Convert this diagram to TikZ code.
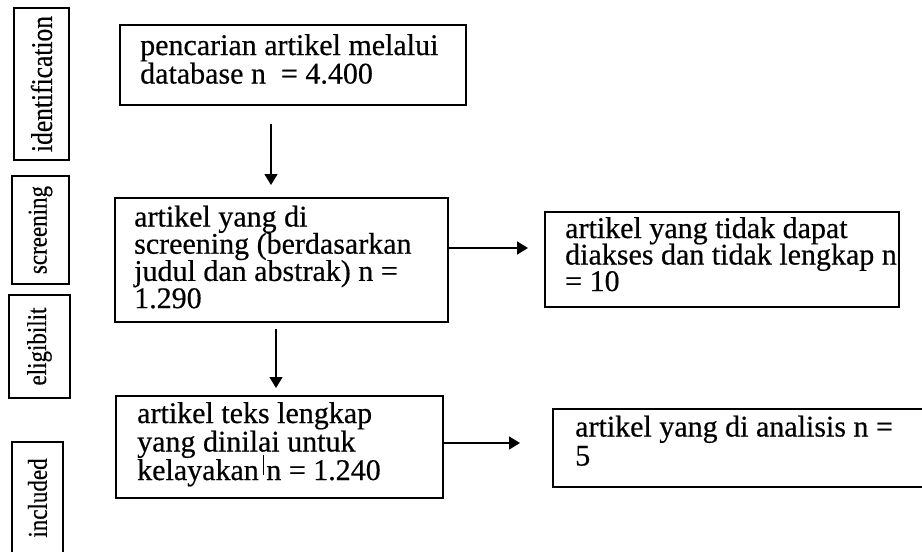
\documentclass[tikz,border=0pt]{standalone}
\usepackage{fontspec}
\setmainfont[FakeBold=0.45]{Liberation Serif}
\usetikzlibrary{arrows.meta}
\tikzset{
  box/.style={draw, line width=2.4pt, rectangle, inner sep=0pt, anchor=north west},
  lbl/.style={draw, line width=2.4pt, rectangle, inner sep=0pt, rotate=90, font=\fontsize{23}{23}\selectfont},
  txt/.style={inner sep=0pt, anchor=base west, font=\fontsize{30}{30}\selectfont},
  arr/.style={line width=1.5pt, -{Triangle[length=11pt,width=13pt]}},
}
\newcommand\tallglyph[1]{\scalebox{1}[1.18]{#1}}
\begin{document}
\begin{tikzpicture}[x=1pt,y=-1pt]
\clip (0,0) rectangle (922,552);
% stage labels
\node[lbl, minimum width=152, minimum height=55, font=\fontsize{25.5}{25.5}\selectfont] (l1) at (41.5,84) {\tallglyph{identification}};
\node[lbl, minimum width=108, minimum height=57] (l2) at (40.5,230) {\tallglyph{screening}};
\node[lbl, minimum width=103, minimum height=61] (l3) at (39.5,346.5) {\tallglyph{eligibilit}};
\node[lbl, minimum width=112, minimum height=51] (l4) at (37.5,498) {\tallglyph{included}};
% boxes
\node[box, minimum width=346, minimum height=80] (b1) at (119,24) {};
\node[box, minimum width=333, minimum height=124] (b2) at (114,197) {};
\node[box, minimum width=354, minimum height=95] (b4) at (544,211) {};
\node[box, minimum width=327, minimum height=102] (b3) at (115,395) {};
\node[box, minimum width=400, minimum height=78] (b5) at (552,408) {};
% texts
\node[txt] (t1) at (140,55) {\vtop{\baselineskip=28.5pt\lineskiplimit=-100pt\hbox{pencarian artikel melalui}\hbox{database n\ \ = 4.400}}};
\node[txt] (t2) at (134,226.5) {\vtop{\baselineskip=27.2pt\lineskiplimit=-100pt\hbox{artikel yang di}\hbox{screening (berdasarkan}\hbox{judul dan abstrak) n =}\hbox{1.290}}};
\node[txt] (t4) at (565,238) {\vtop{\baselineskip=26.5pt\lineskiplimit=-100pt\hbox{artikel yang tidak dapat}\hbox{diakses dan tidak lengkap n}\hbox{= 10}}};
\node[txt] (t3) at (137,423) {\vtop{\baselineskip=28.5pt\lineskiplimit=-100pt\hbox{artikel teks lengkap}\hbox{yang dinilai untuk}\hbox{kelayakan n = 1.240}}};
\node[txt] (t5) at (575,436.5) {\vtop{\baselineskip=29pt\lineskiplimit=-100pt\hbox{artikel yang di analisis n =}\hbox{5}}};
% connector guides
\coordinate (c1) at (271,0);
\coordinate (c2) at (276,0);
\coordinate (c3) at (0,248);
\coordinate (c4) at (0,443);
\draw[arr, shorten <=18pt, shorten >=12pt] (b1.south -| c1) -- (b2.north -| c1);
\draw[arr, shorten <=6pt, shorten >=7pt] (b2.south -| c2) -- (b3.north -| c2);
\draw[arr, shorten >=16pt] (b2.east |- c3) -- (b4.west |- c3);
\draw[arr, shorten >=32pt] (b3.east |- c4) -- (b5.west |- c4);
% stray mark
\coordinate (m1) at (263,455);
\coordinate (m2) at (263,475);
\draw[line width=1pt] (m1) -- (m2);
\end{tikzpicture}
\end{document}
